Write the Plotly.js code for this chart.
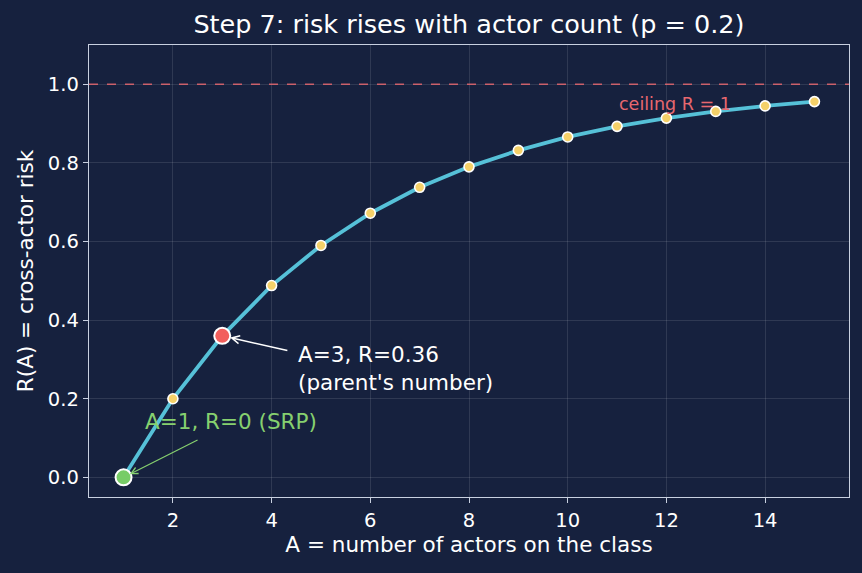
<!DOCTYPE html>
<html><head><meta charset="utf-8">
<script src="https://cdn.plot.ly/plotly-3.0.1.min.js"></script>
<style>html,body{margin:0;padding:0;background:#16213e;}</style>
</head><body><div id="chart" style="width:862px;height:573px;"></div>
<script>
var actors = [1,2,3,4,5,6,7,8,9,10,11,12,13,14,15];
var risk = [0, 0.2, 0.36, 0.488, 0.590, 0.672, 0.738, 0.790, 0.832, 0.866, 0.893, 0.914, 0.931, 0.945, 0.956];
var srpPoint = {x: 1, y: 0};
var parentPoint = {x: 3, y: 0.36};
var ceiling = 1;

var font = 'DejaVu Sans, sans-serif';
var traces = [
  {x: actors, y: risk, type: 'scatter', mode: 'lines+markers',
   line: {color: '#56c1d8', width: 3.8},
   marker: {color: '#f5d169', size: 10, line: {color: '#ffffff', width: 1.6}},
   hoverinfo: 'skip', showlegend: false},
  {x: [srpPoint.x], y: [srpPoint.y], type: 'scatter', mode: 'markers',
   marker: {color: '#77cc66', size: 16, line: {color: '#ffffff', width: 2}}, showlegend: false},
  {x: [parentPoint.x], y: [parentPoint.y], type: 'scatter', mode: 'markers',
   marker: {color: '#f25f5c', size: 16, line: {color: '#ffffff', width: 2}}, showlegend: false}
];

var layout = {
  width: 862, height: 573,
  paper_bgcolor: '#16213e', plot_bgcolor: '#16213e',
  margin: {l: 89, r: 13, t: 45, b: 76},
  font: {family: font, color: '#ffffff', size: 20},
  title: {text: 'Step 7: risk rises with actor count (p = 0.2)', x: 0.544, xanchor: 'center', y: 0.958, yanchor: 'middle', font: {size: 25.5, color: '#ffffff', family: font}},
  xaxis: {range: [0.3, 15.7], tickvals: [2,4,6,8,10,12,14], ticks: 'outside', ticklen: 5, tickcolor: '#c8d0e0',
    showline: true, mirror: true, linecolor: '#c8d0e0', linewidth: 1.3,
    gridcolor: 'rgba(255,255,255,0.11)', zeroline: false, tickfont: {size: 19.5},
    title: {text: 'A = number of actors on the class', font: {size: 21.5}, standoff: 6}},
  yaxis: {range: [-0.05, 1.1], tickvals: [0,0.2,0.4,0.6,0.8,1.0], ticktext: ['0.0','0.2','0.4','0.6','0.8','1.0'],
    ticks: 'outside', ticklen: 5, tickcolor: '#c8d0e0',
    showline: true, mirror: true, linecolor: '#c8d0e0', linewidth: 1.3,
    gridcolor: 'rgba(255,255,255,0.11)', zeroline: false, tickfont: {size: 19.5},
    title: {text: 'R(A) = cross-actor risk', font: {size: 21.5}, standoff: 8}},
  shapes: [
    {type: 'line', xref: 'paper', x0: 0, x1: 1, yref: 'y', y0: ceiling, y1: ceiling,
     line: {color: 'rgba(232,104,112,0.85)', width: 1.6, dash: 'dash'}}
  ],
  annotations: [
    {x: 11, y: 0.92, xref: 'x', yref: 'y', text: 'ceiling R = 1', showarrow: false,
     xanchor: 'left', yanchor: 'bottom', font: {size: 17.5, color: '#e8686f'}},
    {x: 4.5, y: 0.205, xref: 'x', yref: 'y', text: "A=3, R=0.36<br>(parent's number)", showarrow: false,
     xanchor: 'left', yanchor: 'bottom', align: 'left', font: {size: 21.5, color: '#ffffff'}},
    {x: parentPoint.x, y: parentPoint.y, xref: 'x', yref: 'y', ax: 4.35, ay: 0.322, axref: 'x', ayref: 'y',
     text: '', showarrow: true, arrowhead: 5, arrowsize: 1.1, arrowwidth: 1.4, arrowcolor: '#ffffff', standoff: 8},
    {x: 1.4, y: 0.105, xref: 'x', yref: 'y', text: 'A=1, R=0 (SRP)', showarrow: false,
     xanchor: 'left', yanchor: 'bottom', font: {size: 21.5, color: '#86d06f'}},
    {x: srpPoint.x, y: srpPoint.y, xref: 'x', yref: 'y', ax: 2.53, ay: 0.097, axref: 'x', ayref: 'y',
     text: '', showarrow: true, arrowhead: 5, arrowsize: 1.1, arrowwidth: 1.2, arrowcolor: '#86d06f', standoff: 7}
  ]
};
Plotly.newPlot('chart', traces, layout, {displayModeBar: false, staticPlot: true});
</script></body></html>
